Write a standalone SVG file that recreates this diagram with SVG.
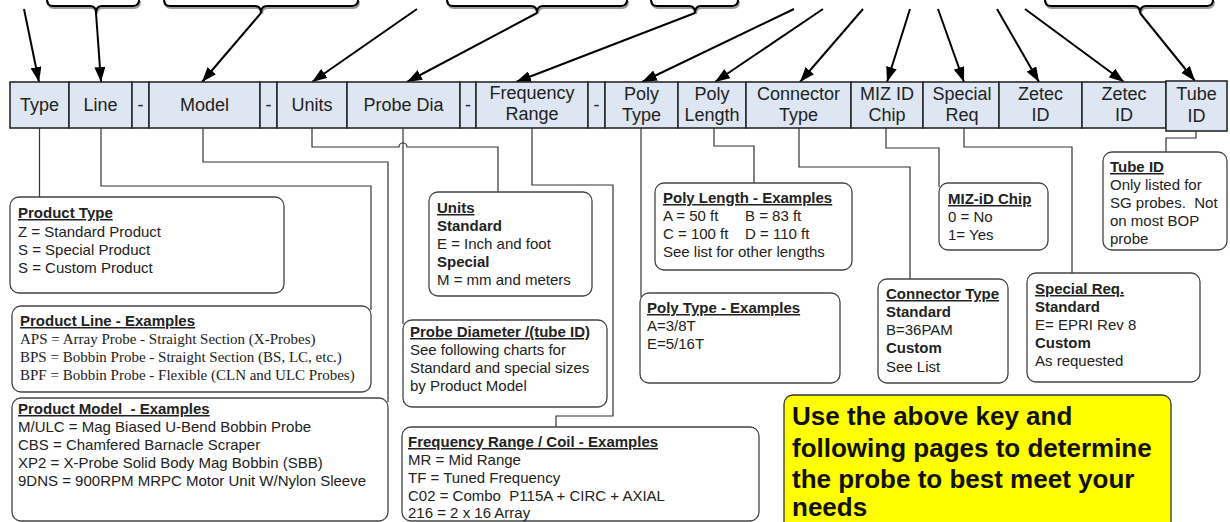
<svg xmlns="http://www.w3.org/2000/svg" width="1230" height="522" viewBox="0 0 1230 522">
<defs>
<marker id="ah" markerWidth="15" markerHeight="11" refX="15" refY="5.5" orient="auto" markerUnits="userSpaceOnUse"><path d="M0,0 L15,5.5 L0,11 z" fill="#000"/></marker>
<style>
.cell{fill:#dde6f2;stroke:#2a2a2a;stroke-width:1.6}
.ht{font-family:"Liberation Sans",Arial,sans-serif;font-size:18px;fill:#222;text-anchor:middle}
.box{fill:#fff;stroke:#444;stroke-width:1.3}
.t{font-family:"Liberation Sans",Arial,sans-serif;font-size:15px;fill:#222;white-space:pre}
.s{font-family:"Liberation Serif","Times New Roman",serif;font-size:15px;fill:#222}
.b{font-weight:bold}
.u{font-weight:bold;text-decoration:underline}
.con{fill:none;stroke:#333;stroke-width:1.2}
.arr{fill:none;stroke:#000;stroke-width:2;marker-end:url(#ah)}
.br{fill:none;stroke:#000;stroke-width:2}
.brs{fill:none;stroke:#999;stroke-width:2}
.yt{font-family:"Liberation Sans",Arial,sans-serif;font-size:26px;font-weight:bold;fill:#111}
</style>
</defs>
<rect width="1230" height="522" fill="#fff"/>

<g id="braces">
<path class="brs" d="M48,1 Q48,8 54,8 L91,8 Q97,8 97,14 Q97,8 103,8 L134,8 Q140,8 140,1"/>
<path class="br" d="M47,0 Q47,6 53,6 L90,6 Q96,6 96,13 Q96,6 102,6 L133,6 Q139,6 139,0"/>
<path class="brs" d="M165,1 Q165,8 171,8 L256,8 Q262,8 262,14 Q262,8 268,8 L353,8 Q359,8 359,1"/>
<path class="br" d="M164,0 Q164,6 170,6 L255,6 Q261,6 261,13 Q261,6 267,6 L352,6 Q358,6 358,0"/>
<path class="brs" d="M448,1 Q448,8 454,8 L532,8 Q538,8 538,14 Q538,8 544,8 L622,8 Q628,8 628,1"/>
<path class="br" d="M447,0 Q447,6 453,6 L531,6 Q537,6 537,13 Q537,6 543,6 L621,6 Q627,6 627,0"/>
<path class="brs" d="M652,1 Q652,8 658,8 L690,8 Q696,8 696,14 Q696,8 702,8 L733,8 Q739,8 739,1"/>
<path class="br" d="M651,0 Q651,6 657,6 L689,6 Q695,6 695,13 Q695,6 701,6 L732,6 Q738,6 738,0"/>
<path class="brs" d="M1046,1 Q1046,8 1052,8 L1135,8 Q1141,8 1141,14 Q1141,8 1147,8 L1208,8 Q1214,8 1214,1"/>
<path class="br" d="M1045,0 Q1045,6 1051,6 L1134,6 Q1140,6 1140,13 Q1140,6 1146,6 L1207,6 Q1213,6 1213,0"/>
</g>

<g id="arrows">
<line class="arr" x1="24" y1="9" x2="39" y2="82"/>
<line class="arr" x1="96" y1="13" x2="101" y2="82"/>
<line class="arr" x1="261" y1="13" x2="202" y2="82"/>
<line class="arr" x1="417" y1="9" x2="312" y2="82"/>
<line class="arr" x1="537" y1="13" x2="407" y2="82"/>
<line class="arr" x1="695" y1="13" x2="516" y2="82"/>
<line class="arr" x1="794" y1="9" x2="642" y2="82"/>
<line class="arr" x1="823" y1="9" x2="715" y2="82"/>
<line class="arr" x1="863" y1="9" x2="800" y2="82"/>
<line class="arr" x1="910" y1="9" x2="887" y2="82"/>
<line class="arr" x1="938" y1="9" x2="964" y2="82"/>
<line class="arr" x1="997" y1="9" x2="1039" y2="82"/>
<line class="arr" x1="1025" y1="9" x2="1124" y2="82"/>
<line class="arr" x1="1140" y1="13" x2="1195" y2="81"/>
</g>

<g id="header">
<g id="h-type"><rect class="cell" x="10" y="82" width="59" height="46"/><text class="ht" x="39.5" y="111">Type</text></g>
<g id="h-line"><rect class="cell" x="69" y="82" width="63" height="46"/><text class="ht" x="100.5" y="111">Line</text></g>
<g id="h-d1"><rect class="cell" x="132" y="82" width="17" height="46"/><text class="ht" x="140.5" y="111">-</text></g>
<g id="h-model"><rect class="cell" x="149" y="82" width="111" height="46"/><text class="ht" x="204.5" y="111">Model</text></g>
<g id="h-d2"><rect class="cell" x="260" y="82" width="17" height="46"/><text class="ht" x="268.5" y="111">-</text></g>
<g id="h-units"><rect class="cell" x="277" y="82" width="70" height="46"/><text class="ht" x="312" y="111">Units</text></g>
<g id="h-probedia"><rect class="cell" x="347" y="82" width="113" height="46"/><text class="ht" x="403.5" y="111">Probe Dia</text></g>
<g id="h-d3"><rect class="cell" x="460" y="82" width="16" height="46"/><text class="ht" x="468" y="111">-</text></g>
<g id="h-freq"><rect class="cell" x="476" y="82" width="112" height="46"/><text class="ht" x="532" y="99">Frequency</text><text class="ht" x="532" y="120">Range</text></g>
<g id="h-d4"><rect class="cell" x="588" y="82" width="17" height="46"/><text class="ht" x="596.5" y="111">-</text></g>
<g id="h-polytype"><rect class="cell" x="605" y="82" width="73" height="46"/><text class="ht" x="641.5" y="100">Poly</text><text class="ht" x="641.5" y="121">Type</text></g>
<g id="h-polylen"><rect class="cell" x="678" y="82" width="68" height="46"/><text class="ht" x="712" y="100">Poly</text><text class="ht" x="712" y="121">Length</text></g>
<g id="h-conn"><rect class="cell" x="746" y="82" width="105" height="46"/><text class="ht" x="798.5" y="100">Connector</text><text class="ht" x="798.5" y="121">Type</text></g>
<g id="h-miz"><rect class="cell" x="851" y="82" width="72" height="46"/><text class="ht" x="887" y="100">MIZ ID</text><text class="ht" x="887" y="121">Chip</text></g>
<g id="h-special"><rect class="cell" x="923" y="82" width="76" height="46"/><text class="ht" x="962" y="100">Special</text><text class="ht" x="962" y="121">Req</text></g>
<g id="h-zetec1"><rect class="cell" x="999" y="82" width="83" height="46"/><text class="ht" x="1040.5" y="100">Zetec</text><text class="ht" x="1040.5" y="121">ID</text></g>
<g id="h-zetec2"><rect class="cell" x="1082" y="82" width="84" height="46"/><text class="ht" x="1124" y="100">Zetec</text><text class="ht" x="1124" y="121">ID</text></g>
<g id="h-tube"><rect class="cell" x="1166" y="81" width="61" height="50"/><text class="ht" x="1196.5" y="100">Tube</text><text class="ht" x="1196.5" y="122">ID</text></g>
</g>

<g id="connectors">
<path class="con" d="M39.5,128 V197"/>
<path class="con" d="M101,128 V186 H371 V310"/>
<path class="con" d="M203,128 V162 H388 V402"/>
<path class="con" d="M312,128 V147 H399 A4,4 0 0 1 407,147 H498 V192"/>
<path class="con" d="M403,128 V324"/>
<path class="con" d="M532,128 V185 H613 V416 H556 V427"/>
<path class="con" d="M641,128 V297"/>
<path class="con" d="M714,128 V146 H754 V183"/>
<path class="con" d="M799,128 V167 H910 V279"/>
<path class="con" d="M886,128 V148 H939 V187"/>
<path class="con" d="M964,128 V147 H1072 V273"/>
<path class="con" d="M1196,131 V138 H1166 V152"/>
</g>

<g id="n-ptype">
<rect class="box" x="10" y="197" width="274" height="96" rx="9"/>
<text class="t" x="18"><tspan class="u" x="18" y="218">Product Type</tspan><tspan x="18" y="237">Z = Standard Product</tspan><tspan x="18" y="255">S = Special Product</tspan><tspan x="18" y="273">S = Custom Product</tspan></text>
</g>
<g id="n-pline">
<rect class="box" x="12" y="306" width="359" height="86" rx="9"/>
<text class="t u" x="20" y="326">Product Line - Examples</text>
<text class="s"><tspan x="20" y="344">APS = Array Probe - Straight Section (X-Probes)</tspan><tspan x="20" y="362">BPS = Bobbin Probe - Straight Section (BS, LC, etc.)</tspan><tspan x="20" y="380">BPF = Bobbin Probe - Flexible (CLN and ULC Probes)</tspan></text>
</g>
<g id="n-pmodel">
<rect class="box" x="12" y="398" width="376" height="123" rx="9"/>
<text class="t"><tspan class="u" x="18" y="414">Product Model  - Examples</tspan><tspan x="18" y="432">M/ULC = Mag Biased U-Bend Bobbin Probe</tspan><tspan x="18" y="450">CBS = Chamfered Barnacle Scraper</tspan><tspan x="18" y="468">XP2 = X-Probe Solid Body Mag Bobbin (SBB)</tspan><tspan x="18" y="486">9DNS = 900RPM MRPC Motor Unit W/Nylon Sleeve</tspan></text>
</g>
<g id="n-units">
<rect class="box" x="429" y="192" width="163" height="104" rx="9"/>
<text class="t"><tspan class="u" x="437" y="213">Units</tspan><tspan class="b" x="437" y="231">Standard</tspan><tspan x="437" y="249">E = Inch and foot</tspan><tspan class="b" x="437" y="267">Special</tspan><tspan x="437" y="285">M = mm and meters</tspan></text>
</g>
<g id="n-probedia">
<rect class="box" x="403" y="320" width="204" height="87" rx="9"/>
<text class="t"><tspan class="u" x="410" y="337">Probe Diameter /(tube ID)</tspan><tspan x="410" y="355">See following charts for</tspan><tspan x="410" y="373">Standard and special sizes</tspan><tspan x="410" y="391">by Product Model</tspan></text>
</g>
<g id="n-freq">
<rect class="box" x="402" y="427" width="357" height="94" rx="9"/>
<text class="t"><tspan class="u" x="408" y="447">Frequency Range / Coil - Examples</tspan><tspan x="408" y="465">MR = Mid Range</tspan><tspan x="408" y="483">TF = Tuned Frequency</tspan><tspan x="408" y="501">C02 = Combo  P115A + CIRC + AXIAL</tspan><tspan x="408" y="518">216 = 2 x 16 Array</tspan></text>
</g>
<g id="n-polylen">
<rect class="box" x="655" y="183" width="197" height="87" rx="9"/>
<text class="t"><tspan class="u" x="663" y="203">Poly Length - Examples</tspan><tspan x="663" y="221">A = 50 ft</tspan><tspan x="745" y="221">B = 83 ft</tspan><tspan x="663" y="239">C = 100 ft</tspan><tspan x="745" y="239">D = 110 ft</tspan><tspan x="663" y="257">See list for other lengths</tspan></text>
</g>
<g id="n-polytype">
<rect class="box" x="640" y="293" width="200" height="90" rx="9"/>
<text class="t"><tspan class="u" x="647" y="313">Poly Type - Examples</tspan><tspan x="647" y="331">A=3/8T</tspan><tspan x="647" y="349">E=5/16T</tspan></text>
</g>
<g id="n-miz">
<rect class="box" x="939" y="183" width="109" height="67" rx="9"/>
<text class="t"><tspan class="u" x="948" y="204">MIZ-iD Chip</tspan><tspan x="948" y="222">0 = No</tspan><tspan x="948" y="240">1= Yes</tspan></text>
</g>
<g id="n-tube">
<rect class="box" x="1103" y="152" width="124" height="98" rx="9"/>
<text class="t"><tspan class="u" x="1110" y="172">Tube ID</tspan><tspan x="1110" y="190">Only listed for</tspan><tspan x="1110" y="208">SG probes.  Not</tspan><tspan x="1110" y="226">on most BOP</tspan><tspan x="1110" y="244">probe</tspan></text>
</g>
<g id="n-conn">
<rect class="box" x="878" y="279" width="130" height="104" rx="9"/>
<text class="t"><tspan class="u" x="886" y="299">Connector Type</tspan><tspan class="b" x="886" y="317">Standard</tspan><tspan x="886" y="335">B=36PAM</tspan><tspan class="b" x="886" y="353">Custom</tspan><tspan x="886" y="372">See List</tspan></text>
</g>
<g id="n-special">
<rect class="box" x="1027" y="273" width="173" height="109" rx="9"/>
<text class="t"><tspan class="u" x="1035" y="294">Special Req.</tspan><tspan class="b" x="1035" y="312">Standard</tspan><tspan x="1035" y="330">E= EPRI Rev 8</tspan><tspan class="b" x="1035" y="348">Custom</tspan><tspan x="1035" y="366">As requested</tspan></text>
</g>
<g id="n-note">
<rect x="784" y="395" width="387" height="140" rx="9" fill="#ffff00" stroke="#333" stroke-width="1.3"/>
<text class="yt"><tspan x="792" y="425">Use the above key and</tspan><tspan x="792" y="457">following pages to determine</tspan><tspan x="792" y="488">the probe to best meet your</tspan><tspan x="792" y="516">needs</tspan></text>
</g>
</svg>
